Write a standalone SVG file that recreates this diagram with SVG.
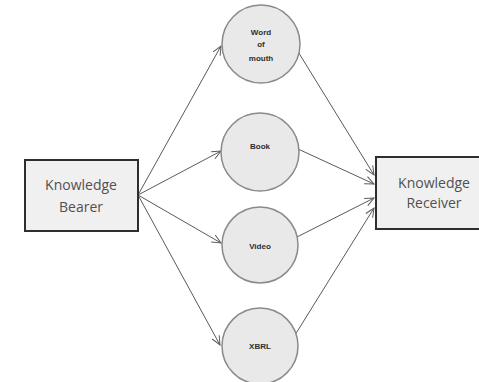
<svg xmlns="http://www.w3.org/2000/svg" width="479" height="382" viewBox="0 0 479 382">
  <style>
    .box { fill: #f0f0f0; stroke: #2e2e2e; stroke-width: 2; }
    .media { fill: #e9e9e9; stroke: #8a8a8a; stroke-width: 1.5; }
    .boxtext { font-family: "Open Sans", "Liberation Sans", sans-serif; font-size: 14px; fill: #505050; text-anchor: middle; }
    .medtext { font-family: "Liberation Sans", Arial, sans-serif; font-size: 8px; font-weight: bold; fill: #2e2e2e; text-anchor: middle; }
    .link { stroke: #5a5a5a; stroke-width: 1; fill: none; marker-end: url(#arrow); }
  </style>
  <defs>
    <marker id="arrow" markerWidth="12" markerHeight="12" refX="10" refY="5" orient="auto" markerUnits="userSpaceOnUse">
      <path d="M1,1 L10,5 L1,9" fill="none" stroke="#5a5a5a" stroke-width="1"/>
    </marker>
  </defs>
  <rect width="479" height="382" fill="#ffffff"/>

  <g id="connectors">
    <line class="link" x1="138" y1="195" x2="221" y2="46"/>
    <line class="link" x1="138" y1="195" x2="221" y2="151"/>
    <line class="link" x1="138" y1="195" x2="221" y2="243"/>
    <line class="link" x1="138" y1="195" x2="220" y2="345"/>
    <line class="link" x1="297" y1="50" x2="374" y2="175"/>
    <line class="link" x1="298" y1="149" x2="374" y2="184"/>
    <line class="link" x1="297" y1="237" x2="374" y2="198"/>
    <line class="link" x1="295" y1="335" x2="374" y2="208"/>
  </g>

  <g id="knowledge-bearer">
    <rect class="box" x="25" y="160" width="113" height="71"/>
    <text class="boxtext" x="81" y="190">Knowledge</text>
    <text class="boxtext" x="81" y="212">Bearer</text>
  </g>

  <g id="word-of-mouth">
    <circle class="media" cx="261" cy="44" r="39"/>
    <text class="medtext" x="261" y="35">Word</text>
    <text class="medtext" x="261" y="47">of</text>
    <text class="medtext" x="261" y="61">mouth</text>
  </g>

  <g id="book">
    <circle class="media" cx="260" cy="152" r="39"/>
    <text class="medtext" x="260" y="149">Book</text>
  </g>

  <g id="video">
    <circle class="media" cx="260" cy="245" r="38"/>
    <text class="medtext" x="260" y="249">Video</text>
  </g>

  <g id="xbrl">
    <circle class="media" cx="260" cy="346" r="38"/>
    <text class="medtext" x="260" y="349">XBRL</text>
  </g>

  <g id="knowledge-receiver">
    <rect class="box" x="376" y="157" width="118" height="72"/>
    <text class="boxtext" x="434" y="188">Knowledge</text>
    <text class="boxtext" x="434" y="208">Receiver</text>
  </g>
</svg>
